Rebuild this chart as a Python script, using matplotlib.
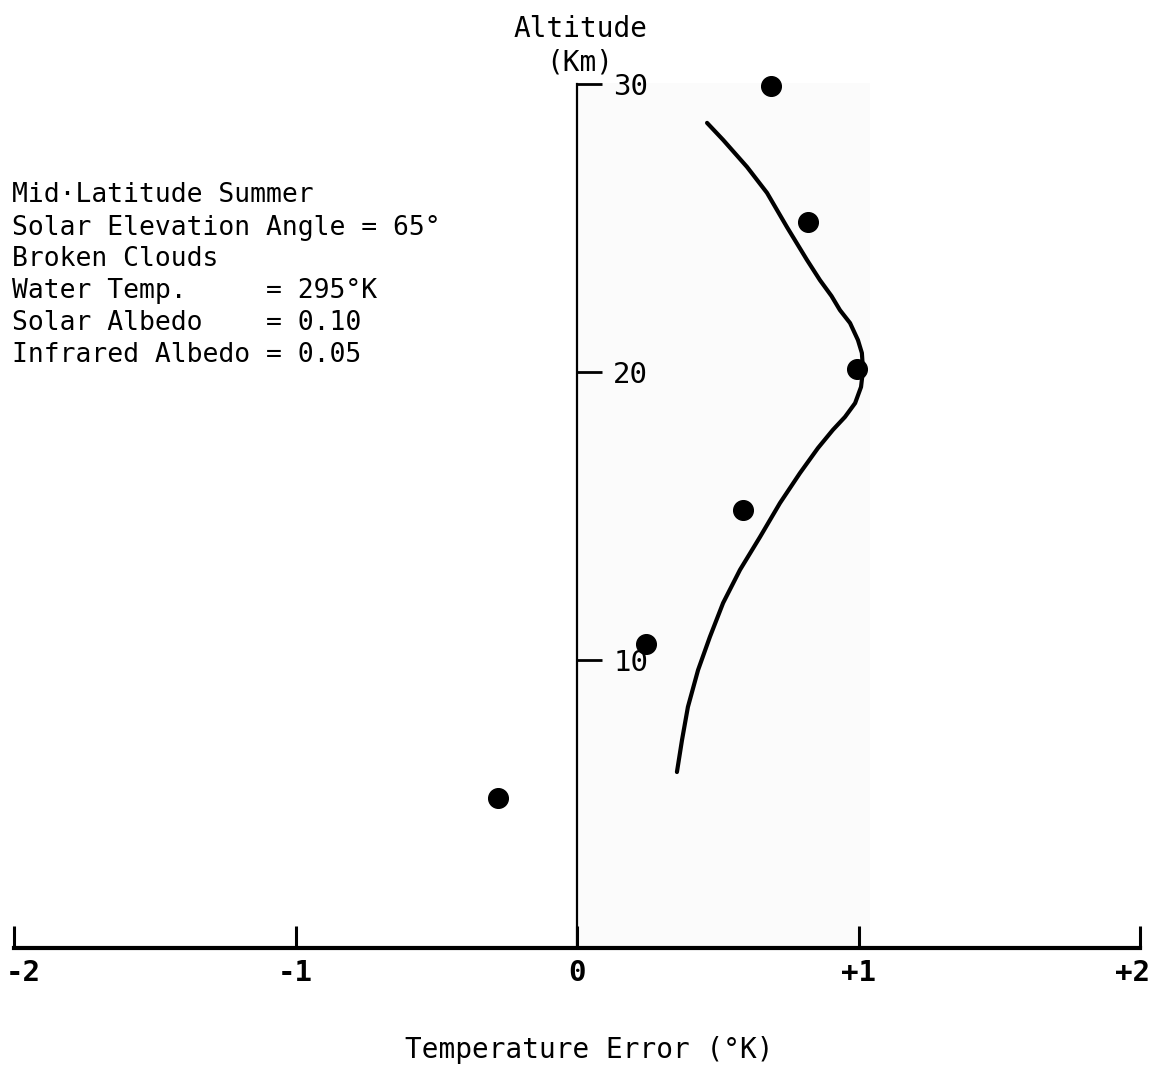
import matplotlib
matplotlib.use("Agg")
import matplotlib.pyplot as plt
from matplotlib.patches import Rectangle
from matplotlib.transforms import ScaledTranslation

# ---- data ----
x_ticks = [-2, -1, 0, 1, 2]
x_tick_labels = ["-2", "-1", "0", "+1", "+2"]
y_ticks = [10, 20, 30]
y_tick_labels = ["10", "20", "30"]

# measured points: temperature error (K), altitude (km)
point_err = [0.689, 0.821, 0.995, 0.590, 0.245, -0.281]
point_alt = [29.93, 25.21, 20.10, 15.21, 10.56, 5.21]

# hand-drawn curve, traced
curve_err = [0.462, 0.519, 0.604, 0.675, 0.746, 0.817, 0.863, 0.904, 0.934,
             0.970, 0.998, 1.012, 1.016, 1.009, 0.988, 0.952, 0.909, 0.856,
             0.792, 0.721, 0.650, 0.579, 0.519, 0.472, 0.430, 0.394, 0.373,
             0.355]
curve_alt = [28.65, 28.06, 27.12, 26.22, 25.03, 23.89, 23.19, 22.64, 22.15,
             21.70, 21.11, 20.66, 20.07, 19.48, 18.92, 18.44, 17.99, 17.36,
             16.49, 15.45, 14.27, 13.13, 11.98, 10.80, 9.65, 8.37, 7.22,
             6.11]

info_lines = [
    "Mid\u00b7Latitude Summer",
    "Solar Elevation Angle = 65\u00b0",
    "Broken Clouds",
    "Water Temp.     = 295\u00b0K",
    "Solar Albedo    = 0.10",
    "Infrared Albedo = 0.05",
]

W, H = 1155, 1066
fig = plt.figure(figsize=(W / 100, H / 100), dpi=100)
ax = fig.add_axes([0, 0, 1, 1])

# pixel mapping of the original: x0 at 577 px, 281.5 px/unit; y0 at 948 px, 28.8 px/km
ax.set_xlim(-577 / 281.5, (W - 577) / 281.5)
ax.set_ylim(-(H - 948) / 28.8, 948 / 28.8)

# faint shaded area (scan background)
ax.add_patch(Rectangle((0, 0), 1.04, 30.05, facecolor="#fbfbfb", edgecolor="none", zorder=0))

mono = "DejaVu Sans Mono"

# spines
for s in ["top", "left"]:
    ax.spines[s].set_visible(False)
ax.spines["bottom"].set_position(("data", 0))
ax.spines["bottom"].set_bounds(-2, 2)
ax.spines["bottom"].set_linewidth(3.0)
ax.spines["right"].set_position(("data", 0))
ax.spines["right"].set_bounds(0, 30)
ax.spines["right"].set_linewidth(1.6)

ax.set_xticks(x_ticks)
ax.set_xticklabels(x_tick_labels, fontfamily=mono, fontsize=21, fontweight="bold")
ax.tick_params(axis="x", direction="in", length=16, width=2.2, pad=8)
labs = ax.get_xticklabels()
labs[0].set_transform(labs[0].get_transform() + ScaledTranslation(0.09, 0, fig.dpi_scale_trans))
labs[-1].set_transform(labs[-1].get_transform() + ScaledTranslation(-0.08, 0, fig.dpi_scale_trans))

ax.yaxis.tick_right()
ax.set_yticks(y_ticks)
ax.set_yticklabels(y_tick_labels, fontfamily=mono, fontsize=21)
ax.tick_params(axis="y", direction="out", length=18, width=2.0, pad=8)

# curve and points
ax.plot(curve_err, curve_alt, color="black", lw=3.0, solid_capstyle="round",
        solid_joinstyle="round", zorder=3)
ax.scatter(point_err, point_alt, s=200, color="black", zorder=4)

def px(x, y):
    return x / W, 1 - y / H

baselines = [202, 235, 266, 298, 330, 362]
for line, b in zip(info_lines, baselines):
    fig.text(*px(12, b), line, fontfamily=mono, fontsize=19, ha="left", va="baseline")

fig.text(*px(581, 37), "Altitude", fontfamily=mono, fontsize=20, ha="center", va="baseline")
fig.text(*px(580, 70), "(Km)", fontfamily=mono, fontsize=20, ha="center", va="baseline")
fig.text(*px(589, 1058), "Temperature Error (\u00b0K)", fontfamily=mono, fontsize=20,
         ha="center", va="baseline")

fig.savefig("out.png", dpi=100, facecolor="white")
